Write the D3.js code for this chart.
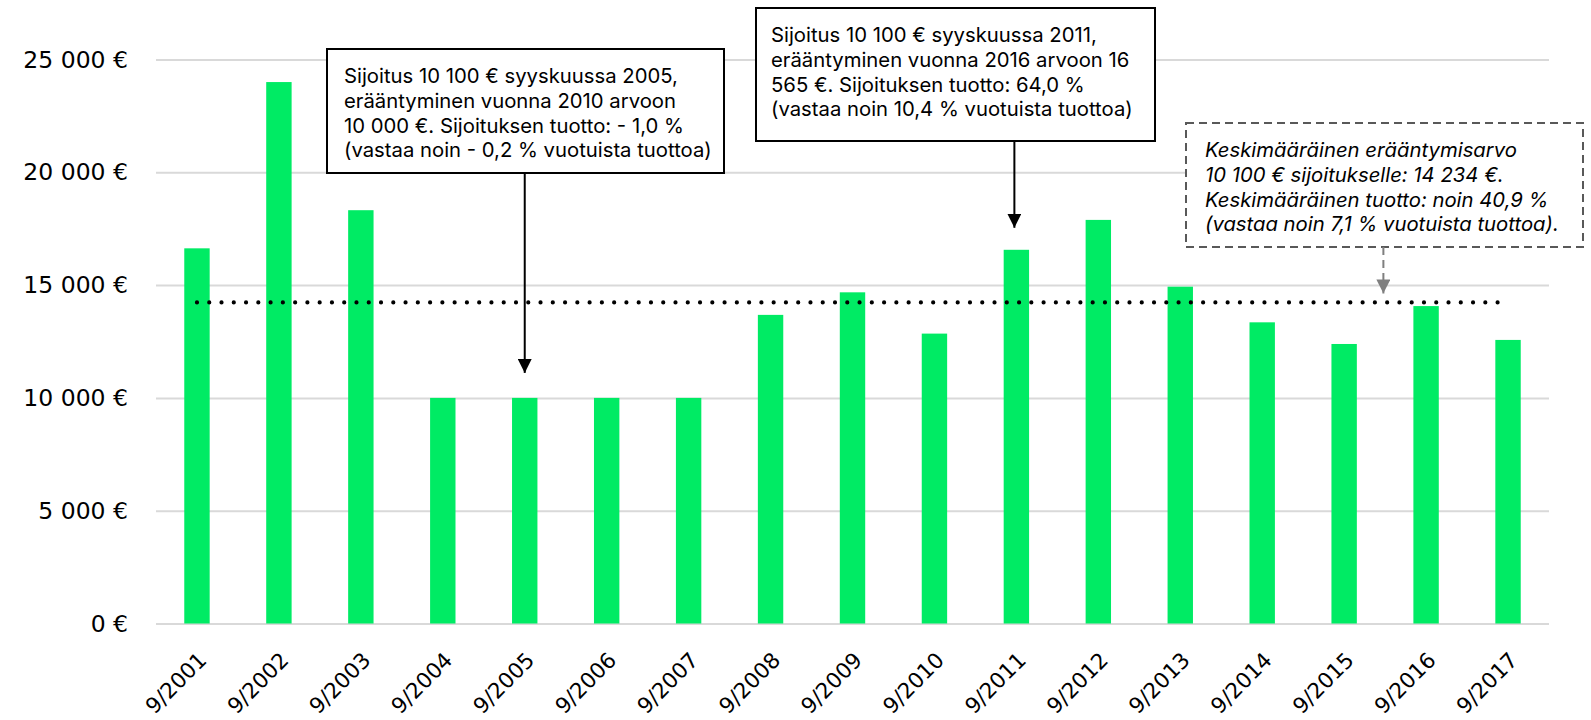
<!DOCTYPE html>
<html>
<head>
<meta charset="utf-8">
<script src="https://cdn.jsdelivr.net/npm/d3@7"></script>
<style>
  html, body { margin: 0; padding: 0; background: #fff; }
  svg { display: block; font-family: Inter, "Noto Sans", sans-serif; }
</style>
</head>
<body>
<div id="viz"></div>
<script>
// ── DATA ─────────────────────────────────────────────────────────────────────
const categories = ["9/2001", "9/2002", "9/2003", "9/2004", "9/2005", "9/2006",
  "9/2007", "9/2008", "9/2009", "9/2010", "9/2011", "9/2012", "9/2013",
  "9/2014", "9/2015", "9/2016", "9/2017"];
const values = [16630, 24000, 18320, 10000, 10000, 10000, 10000, 13680, 14680,
  12850, 16565, 17890, 14930, 13350, 12390, 14070, 12570];
const average = 14234;
const yTicks = [0, 5000, 10000, 15000, 20000, 25000];

const note2005 = [
  "Sijoitus 10 100 € syyskuussa 2005,",
  "erääntyminen vuonna 2010 arvoon",
  "10 000 €. Sijoituksen tuotto: - 1,0 %",
  "(vastaa noin - 0,2 % vuotuista tuottoa)"
];
const note2011 = [
  "Sijoitus 10 100 € syyskuussa 2011,",
  "erääntyminen vuonna 2016 arvoon 16",
  "565 €. Sijoituksen tuotto: 64,0 %",
  "(vastaa noin 10,4 % vuotuista tuottoa)"
];
const noteAverage = [
  "Keskimääräinen erääntymisarvo",
  "10 100 € sijoitukselle: 14 234 €.",
  "Keskimääräinen tuotto: noin 40,9 %",
  "(vastaa noin 7,1 % vuotuista tuottoa)."
];

// ── SETTINGS ────────────────────────────────────────────────────────────────
const width = 1591, height = 720;
const plot = { left: 156, right: 1549, top: 59.5, bottom: 623.5 };
const green = "#00eb64";
const axisFont = "'DejaVu Sans', sans-serif";

const svg = d3.select("#viz").append("svg")
    .attr("viewBox", [0, 0, width, height])
    .attr("width", width)
    .attr("height", height);

const defs = svg.append("defs");
[["arrowBlack", "#000"], ["arrowGrey", "#7f7f7f"]].forEach(([id, c]) => {
  defs.append("marker")
      .attr("id", id)
      .attr("viewBox", "0 0 10 10")
      .attr("refX", 10).attr("refY", 5)
      .attr("markerWidth", 7).attr("markerHeight", 7)
      .attr("markerUnits", "strokeWidth")
      .attr("orient", "auto")
    .append("path")
      .attr("d", "M0,0L10,5L0,10Z")
      .attr("fill", c);
});

// ── SCALES ───────────────────────────────────────────────────────────────────
const x = d3.scaleBand()
    .domain(categories)
    .range([plot.left, plot.right])
    .paddingInner(0.69)
    .paddingOuter(0.345);

const y = d3.scaleLinear()
    .domain([0, 25000])
    .range([plot.bottom, plot.top]);

// ── GRID + Y AXIS ────────────────────────────────────────────────────────────
const yAxis = svg.append("g")
    .attr("transform", `translate(${plot.left},0)`)
    .call(d3.axisLeft(y).tickValues(yTicks)
      .tickSize(-(plot.right - plot.left))
      .tickPadding(28)
      .tickFormat(d => d3.format(",")(d).replace(/,/g, " ") + " €"));
yAxis.select(".domain").remove();
yAxis.selectAll(".tick line").attr("stroke", "#d9d9d9").attr("stroke-width", 2);
yAxis.selectAll(".tick text")
    .attr("font-family", axisFont)
    .attr("font-size", 23.5)
    .attr("fill", "#000");

// ── BARS ─────────────────────────────────────────────────────────────────────
svg.append("g").selectAll("rect")
  .data(values)
  .join("rect")
    .attr("x", (d, i) => x(categories[i]))
    .attr("y", d => y(d))
    .attr("width", x.bandwidth())
    .attr("height", d => y(0) - y(d))
    .attr("fill", green);

// ── X AXIS ───────────────────────────────────────────────────────────────────
const xAxis = svg.append("g")
    .attr("transform", `translate(0,${plot.bottom})`)
    .call(d3.axisBottom(x).tickSize(0).tickPadding(0));
xAxis.select(".domain").remove();
xAxis.selectAll(".tick text")
    .attr("font-family", axisFont)
    .attr("font-size", 21.5)
    .attr("fill", "#000")
    .attr("text-anchor", "end")
    .attr("dy", 0)
    .attr("transform", "translate(11,38) rotate(-45)");

// ── AVERAGE LINE ─────────────────────────────────────────────────────────────
const xFirst = x(categories[0]) + x.bandwidth() / 2;
const xLast = x(categories[categories.length - 1]) + 3;
svg.append("line")
    .attr("x1", xFirst).attr("x2", xLast)
    .attr("y1", y(average)).attr("y2", y(average))
    .attr("stroke", "#000")
    .attr("stroke-width", 4.2)
    .attr("stroke-linecap", "round")
    .attr("stroke-dasharray", "0 12.27");

// ── ANNOTATIONS ──────────────────────────────────────────────────────────────
function noteBox(lines, box, opts) {
  const g = svg.append("g");
  g.append("rect")
      .attr("x", box.x).attr("y", box.y)
      .attr("width", box.w).attr("height", box.h)
      .attr("fill", "#fff")
      .attr("stroke", opts.stroke)
      .attr("stroke-width", 2)
      .attr("stroke-dasharray", opts.dash || null);
  g.append("text")
      .attr("font-size", 20.3)
      .attr("font-style", opts.italic ? "italic" : null)
      .attr("fill", "#000")
    .selectAll("tspan")
    .data(lines)
    .join("tspan")
      .attr("x", box.x + opts.pad)
      .attr("y", (d, i) => box.y + 34 + i * 24.8)
      .text(d => d);
}

function arrow(x0, y0, y1, color, marker, dash) {
  svg.append("line")
      .attr("x1", x0).attr("x2", x0)
      .attr("y1", y0).attr("y2", y1)
      .attr("stroke", color)
      .attr("stroke-width", 2)
      .attr("stroke-dasharray", dash || null)
      .attr("marker-end", `url(#${marker})`);
}

const c2005 = x("9/2005") + x.bandwidth() / 2;
const c2011 = x("9/2011") + x.bandwidth() / 2 - 2;

noteBox(note2005, { x: 327, y: 49, w: 397, h: 124 }, { stroke: "#000", pad: 17 });
arrow(c2005, 173, y(values[4]) - 25, "#000", "arrowBlack");

noteBox(note2011, { x: 756, y: 8, w: 399, h: 133 }, { stroke: "#000", pad: 15 });
arrow(c2011, 141, y(values[10]) - 22, "#000", "arrowBlack");

noteBox(noteAverage, { x: 1186, y: 123, w: 397, h: 124 },
  { stroke: "#595959", pad: 19, italic: true, dash: "8 5" });
arrow(x("9/2016") - 30, 247, y(average) - 9, "#7f7f7f", "arrowGrey", "8 5");
</script>
</body>
</html>
